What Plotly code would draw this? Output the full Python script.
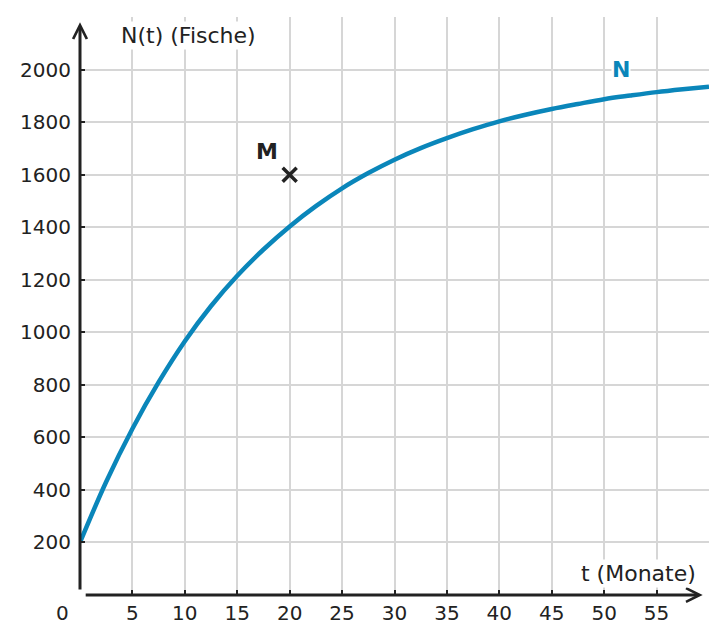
import plotly.graph_objects as go

# values (months -> fish)
t_months = [0, 2.5, 5, 7.5, 10, 12.5, 15, 17.5, 20, 22.5, 25, 27.5, 30,
            32.5, 35, 37.5, 40, 42.5, 45, 47.5, 50, 52.5, 55, 57.5, 60]
n_fish = [200, 431, 633, 810, 966, 1100, 1215, 1315, 1403, 1480, 1548, 1606, 1657,
          1701, 1739, 1773, 1803, 1828, 1850, 1869, 1887, 1901, 1914, 1925, 1935]

m_point_t = [20]
m_point_n = [1600]

x_ticks = [5, 10, 15, 20, 25, 30, 35, 40, 45, 50, 55]
y_ticks = [200, 400, 600, 800, 1000, 1200, 1400, 1600, 1800, 2000]

blue = "#0a86ba"
dark = "#222222"
font = "DejaVu Sans"

fig = go.Figure()

fig.add_trace(go.Scatter(
    x=t_months, y=n_fish, mode="lines",
    line=dict(color=blue, width=4.5, shape="spline"),
    hoverinfo="skip", cliponaxis=False
))

fig.add_trace(go.Scatter(
    x=m_point_t, y=m_point_n, mode="markers",
    marker=dict(symbol="x-thin", size=14, line=dict(color=dark, width=3.5)),
    hoverinfo="skip"
))

# axis arrows
fig.add_annotation(x=59.4, y=0, ax=0.4, ay=0, xref="x", yref="y", axref="x", ayref="y",
                   showarrow=True, arrowhead=5, arrowsize=0.9, arrowwidth=3,
                   arrowcolor=dark, text="")
fig.add_annotation(x=0, y=2180, ax=0, ay=15, xref="x", yref="y", axref="x", ayref="y",
                   showarrow=True, arrowhead=5, arrowsize=0.9, arrowwidth=3,
                   arrowcolor=dark, text="")

# texts
fig.add_annotation(x=10.34, y=2129, xref="x", yref="y", text="N(t) (Fische)",
                   showarrow=False, bgcolor="white",
                   font=dict(family=font, size=22, color=dark))
fig.add_annotation(x=53.3, y=82, xref="x", yref="y", text="t (Monate)",
                   showarrow=False, bgcolor="white",
                   font=dict(family=font, size=22, color=dark))
fig.add_annotation(x=-0.0286, y=-0.031, xref="paper", yref="paper", text="0",
                   xanchor="center", yanchor="middle",
                   showarrow=False, font=dict(family=font, size=20, color=dark))
fig.add_annotation(x=17.8, y=1688, xref="x", yref="y", text="<b>M</b>",
                   showarrow=False, font=dict(family=font, size=22, color=dark))
fig.add_annotation(x=51.6, y=2000, xref="x", yref="y", text="<b>N</b>",
                   showarrow=False, bgcolor="white", borderpad=0,
                   font=dict(family=font, size=22, color=blue))

fig.update_xaxes(range=[0, 60], tickvals=x_ticks, showgrid=True,
                 gridcolor="#d6d6d6", gridwidth=2, zeroline=False, showline=False,
                 ticks="inside", ticklen=5, tickwidth=2, tickcolor=dark,
                 ticklabelstandoff=4,
                 tickfont=dict(family=font, size=20, color=dark))
fig.update_yaxes(range=[0, 2200], tickvals=y_ticks, showgrid=True,
                 gridcolor="#d6d6d6", gridwidth=2, zeroline=False, showline=False,
                 ticks="inside", ticklen=5, tickwidth=2, tickcolor=dark,
                 ticklabelstandoff=8,
                 tickfont=dict(family=font, size=20, color=dark))

fig.update_layout(
    width=727, height=642, showlegend=False,
    margin=dict(l=72, r=26, t=9, b=55),
    plot_bgcolor="white", paper_bgcolor="white",
    font=dict(family=font, color=dark)
)

fig.write_html("out.html")
